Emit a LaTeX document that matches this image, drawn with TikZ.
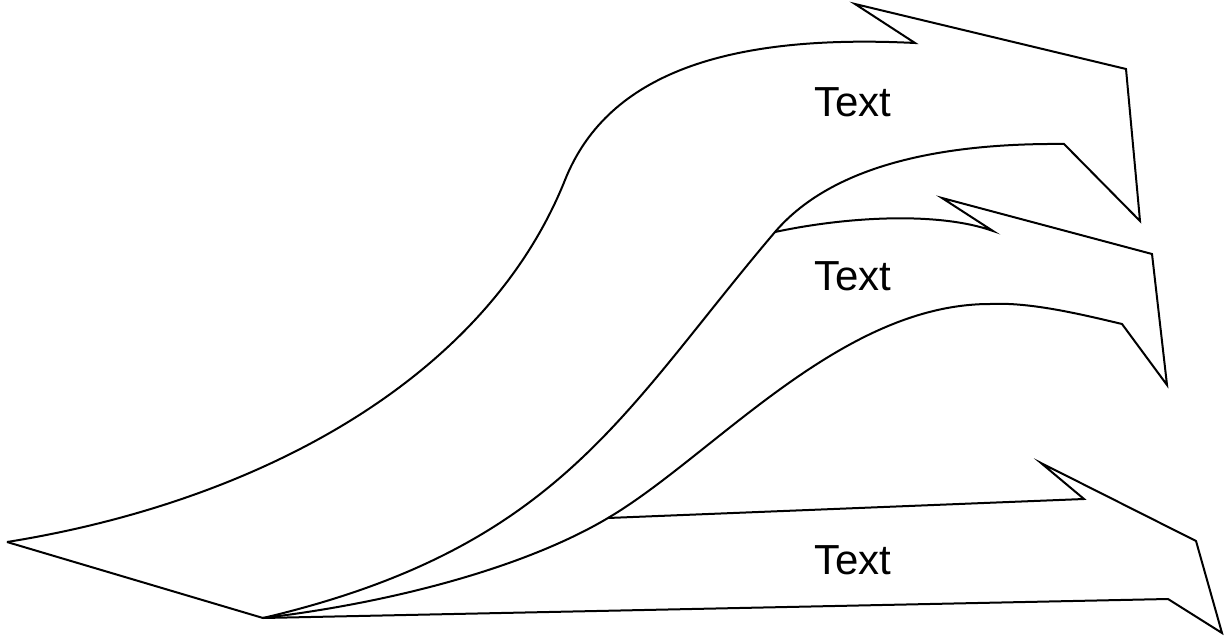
\documentclass[tikz,border=0pt]{standalone}
\usepackage{fontspec}
\setmainfont{Liberation Sans}
\usetikzlibrary{positioning}

\begin{document}
\begin{tikzpicture}[x=1pt,y=-1pt,
 outline/.style={line width=2pt,line join=miter,miter limit=20},
 lbl/.style={font=\fontsize{42}{50}\selectfont,inner sep=0pt}]
\useasboundingbox (0,0) rectangle (1225,636);
% common tail
\coordinate (tailL) at (7,542);
\coordinate (tailB) at (263,618);
% upper arrow
\coordinate (up0) at (565,180);
\coordinate (up1) at (915,43);
\coordinate (up2) at (855,4);
\coordinate (up3) at (1126,69);
\coordinate (up4) at (1140,221);
\coordinate (up5) at (1064,144);
% middle arrow
\coordinate (mid0) at (775,232);
\coordinate (mid1) at (993,231);
\coordinate (mid2) at (942,198);
\coordinate (mid3) at (1152,254);
\coordinate (mid4) at (1167,385);
\coordinate (mid5) at (1122,324);
\coordinate (midtop) at (990,304);
% lower arrow
\coordinate (low0) at (608,518);
\coordinate (low1) at (1084,499);
\coordinate (low2) at (1041,463);
\coordinate (low3) at (1196,541);
\coordinate (low4) at (1222,633);
\coordinate (low5) at (1168,599);
% labels
\node[lbl] (tup) at (853,102) {Text};
\node[lbl] (tmid) at (853,276) {Text};
\node[lbl] (tlow) at (853,560) {Text};
% outlines
\draw[outline] (tailL) -- (tailB);
\draw[outline] (tailL) .. controls (257,502) and (485,380) .. (up0)
 .. controls (605,80) and (715,33) .. (up1)
 -- (up2) -- (up3) -- (up4) -- (up5)
 .. controls (950,143) and (835,162) .. (mid0)
 .. controls (622,412) and (560,548) .. (tailB);
\draw[outline] (mid0) .. controls (850,216) and (940,212) .. (mid1)
 -- (mid2) -- (mid3) -- (mid4) -- (mid5)
 .. controls (1080,314) and (1030,302) .. (midtop)
 .. controls (840,304) and (713,456) .. (low0)
 .. controls (524,568) and (390,603) .. (tailB);
\draw[outline] (low0) -- (low1) -- (low2) -- (low3) -- (low4) -- (low5) -- (tailB);
\end{tikzpicture}
\end{document}
